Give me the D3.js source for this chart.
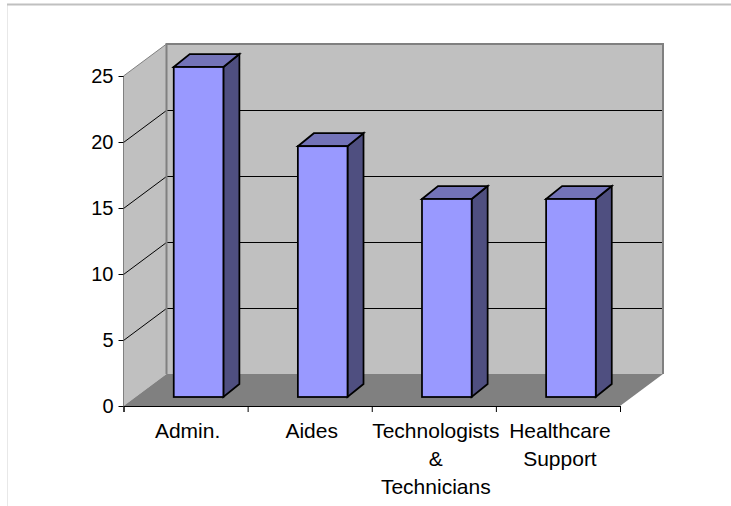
<!DOCTYPE html>
<meta charset="utf-8">
<style>
body { margin: 0; background: #fff; }
svg { display: block; }
text { font-family: "Liberation Sans", Arial, sans-serif; font-size: 21px; fill: #000; }
</style>
<svg width="731" height="506"></svg>
<script src="https://d3js.org/d3.v7.min.js"></script>
<script>

var categories = [["Admin."], ["Aides"], ["Technologists", "&", "Technicians"], ["Healthcare", "Support"]];
var values = [25, 19, 15, 15];
var yTicks = [0, 5, 10, 15, 20, 25];

var svg = d3.select("svg");

// front plane of the fake 3d box
var plotLeft = 123.5, plotRight = 620, plotBottom = 406, plotTop = 76;
var depth = {x: 43, y: -32};
var barShift = {x: 13, y: -9};
var barDepth = {x: 16, y: -13};

var x = d3.scaleBand().domain(d3.range(categories.length)).range([plotLeft, plotRight]).paddingInner(0.6).paddingOuter(0.3);
var xEdge = d3.scaleLinear().domain([0, categories.length]).range([plotLeft, plotRight]);
var y = d3.scaleLinear().domain([0, 25]).range([plotBottom, plotTop]);

function poly(pts) {
  return pts.map(function(p) { return p[0] + "," + p[1]; }).join(" ");
}

// page frame
svg.append("path").attr("d", "M7.5,506V4.5H731").attr("fill", "none").attr("stroke", "#e8e8e8").attr("stroke-width", 1);
svg.append("path").attr("d", "M7,4.5H731").attr("stroke", "#c0c0c0").attr("stroke-width", 2);

var bx = plotLeft + depth.x, rx = plotRight + depth.x;

// back wall, side wall, floor
svg.append("polygon").attr("fill", "#c0c0c0")
  .attr("points", poly([[bx, y(25) + depth.y], [rx, y(25) + depth.y], [rx, y(0) + depth.y], [bx, y(0) + depth.y]]));
svg.append("polygon").attr("fill", "#c0c0c0")
  .attr("points", poly([[plotLeft, y(25)], [bx, y(25) + depth.y], [bx, y(0) + depth.y], [plotLeft, y(0)]]));
svg.append("polygon").attr("fill", "#808080")
  .attr("points", poly([[plotLeft, y(0)], [bx, y(0) + depth.y], [rx, y(0) + depth.y], [plotRight, y(0)]]));

// gridlines along side wall and back wall
svg.append("g").selectAll("path")
  .data(yTicks.filter(function(d) { return d > 0 && d < 25; }))
  .enter().append("path")
    .attr("fill", "none")
    .attr("stroke", "#000")
    .attr("d", function(d) {
      return "M" + plotLeft + "," + (y(d) + 0.5) + "L" + bx + "," + (y(d) + depth.y + 0.5) + "H" + rx;
    });

// wall outlines
svg.append("path").attr("fill", "none").attr("stroke", "#808080").attr("stroke-width", 2)
  .attr("d", "M" + bx + "," + (y(0) + depth.y) + "V" + (y(25) + depth.y) + "H" + rx + "V" + (y(0) + depth.y));
svg.append("path").attr("fill", "none").attr("stroke", "#808080").attr("stroke-width", 1)
  .attr("d", "M" + plotLeft + "," + y(0) + "V" + y(25) + "L" + bx + "," + (y(25) + depth.y));

// bars
var bar = svg.append("g").selectAll("g")
  .data(values)
  .enter().append("g")
    .attr("stroke", "#000")
    .attr("stroke-width", 1.75)
    .attr("stroke-linejoin", "miter");

function bx0(i) { return x(i) + barShift.x; }
function bx1(i) { return bx0(i) + x.bandwidth(); }
function by(d) { return y(d) + barShift.y; }

bar.append("polygon").attr("fill", "#4f4f80")
  .attr("points", function(d, i) {
    return poly([[bx1(i), by(d)], [bx1(i) + barDepth.x, by(d) + barDepth.y], [bx1(i) + barDepth.x, by(0) + barDepth.y], [bx1(i), by(0)]]);
  });
bar.append("polygon").attr("fill", "#7373b8")
  .attr("points", function(d, i) {
    return poly([[bx0(i), by(d)], [bx0(i) + barDepth.x, by(d) + barDepth.y], [bx1(i) + barDepth.x, by(d) + barDepth.y], [bx1(i), by(d)]]);
  });
bar.append("rect").attr("fill", "#9999ff")
  .attr("x", function(d, i) { return bx0(i); })
  .attr("y", function(d) { return by(d); })
  .attr("width", x.bandwidth())
  .attr("height", function(d) { return by(0) - by(d); });

// y axis
var yAxis = svg.append("g")
  .attr("transform", "translate(" + plotLeft + ",0)")
  .call(d3.axisLeft(y).tickValues(yTicks).tickSize(5).tickPadding(5).tickFormat(d3.format("d")));
yAxis.select(".domain").remove();
yAxis.selectAll("text").style("font-size", "20px").style("font-family", "Liberation Sans");

// x axis
var xAxis = svg.append("g")
  .attr("transform", "translate(0," + plotBottom + ")")
  .call(d3.axisBottom(xEdge).ticks(categories.length).tickSize(6).tickFormat(""));

// category labels
var labels = svg.append("g").selectAll("text")
  .data(categories)
  .enter().append("text")
    .attr("text-anchor", "middle")
    .attr("y", 438);
labels.selectAll("tspan")
  .data(function(d, i) { return d.map(function(s) { return {s: s, i: i}; }); })
  .enter().append("tspan")
    .attr("x", function(d) { return x(d.i) + x.bandwidth() / 2 + 2; })
    .attr("dy", function(d, j) { return j ? 28 : 0; })
    .text(function(d) { return d.s; });

</script>
